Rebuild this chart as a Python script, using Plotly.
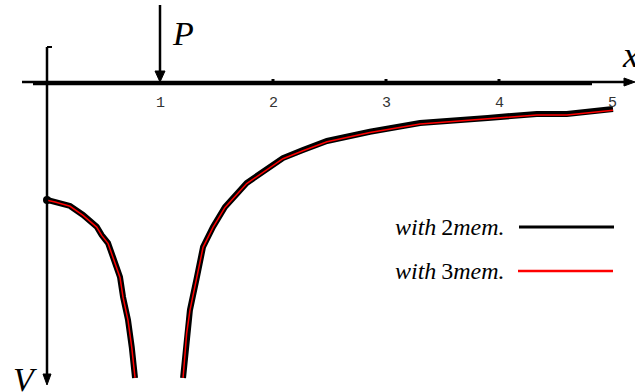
import plotly.graph_objects as go

# ---- data (x along beam, V deflection positive downward) ----
x_left_2 = [0.0, 0.071, 0.204, 0.319, 0.44, 0.484, 0.54, 0.584, 0.646, 0.673, 0.717, 0.75, 0.779]
v_left_2 = [1.044, 1.059, 1.097, 1.177, 1.281, 1.354, 1.425, 1.549, 1.726, 1.903, 2.106, 2.345, 2.619]
x_right_2 = [1.204, 1.236, 1.265, 1.325, 1.381, 1.469, 1.575, 1.767, 1.973, 2.088, 2.265, 2.478, 2.858, 3.301, 3.9, 4.334, 4.6, 5.009]
v_right_2 = [2.619, 2.221, 2.018, 1.735, 1.46, 1.283, 1.106, 0.894, 0.752, 0.673, 0.602, 0.522, 0.44, 0.363, 0.318, 0.283, 0.283, 0.239]

x_left_3 = x_left_2
v_left_3 = [1.046, 1.062, 1.100, 1.180, 1.284, 1.357, 1.428, 1.552, 1.729, 1.906, 2.109, 2.348, 2.619]
x_right_3 = x_right_2
v_right_3 = [2.619, 2.224, 2.021, 1.738, 1.463, 1.287, 1.110, 0.899, 0.757, 0.679, 0.608, 0.529, 0.447, 0.371, 0.326, 0.292, 0.292, 0.250]

tick_vals = [1, 2, 3, 4, 5]
tick_text = ["1", "2", "3", "4", "5"]
legend_names = ["with 2mem.", "with 3mem."]

PX = 113.0  # pixels per unit (same on both axes)

def u(px):
    return px / PX

fig = go.Figure()

# curves: black thick, red thin on top
for xs, vs in [(x_left_2, v_left_2), (x_right_2, v_right_2)]:
    fig.add_trace(go.Scatter(x=xs, y=vs, mode="lines",
                             line=dict(color="black", width=6), showlegend=False,
                             hoverinfo="skip"))
fig.add_trace(go.Scatter(x=[x_left_2[0]], y=[v_left_2[0]], mode="markers",
                         marker=dict(color="black", size=8), showlegend=False, hoverinfo="skip"))
for xs, vs in [(x_left_3, v_left_3), (x_right_3, v_right_3)]:
    fig.add_trace(go.Scatter(x=xs, y=vs, mode="lines",
                             line=dict(color="red", width=1.5), showlegend=False,
                             hoverinfo="skip"))

shapes = []
# horizontal axis
shapes.append(dict(type="line", x0=u(22 - 47), x1=u(626 - 47), y0=0, y1=0,
                   line=dict(color="black", width=2.5)))
shapes.append(dict(type="line", x0=u(33 - 47), x1=u(592 - 47), y0=u(2), y1=u(2),
                   line=dict(color="black", width=2.5)))
shapes.append(dict(type="path",
                   path=f"M {u(635-47)} 0 L {u(624-47)} {u(-4)} L {u(624-47)} {u(4)} Z",
                   fillcolor="black", line=dict(color="black", width=1)))
# small major tick bumps
for t in [2, 3, 4]:
    shapes.append(dict(type="line", x0=t, x1=t, y0=0, y1=u(-3),
                       line=dict(color="black", width=3)))
# vertical axis
shapes.append(dict(type="line", x0=0, x1=0, y0=u(47 - 82), y1=u(376 - 82),
                   line=dict(color="black", width=2.5)))
shapes.append(dict(type="line", x0=0, x1=u(5), y0=u(47 - 82), y1=u(47 - 82),
                   line=dict(color="black", width=2)))
shapes.append(dict(type="path",
                   path=f"M 0 {u(385-82)} L {u(-4)} {u(374-82)} L {u(4)} {u(374-82)} Z",
                   fillcolor="black", line=dict(color="black", width=1)))
# load arrow P at x=1
shapes.append(dict(type="line", x0=1, x1=1, y0=u(5 - 82), y1=u(-10),
                   line=dict(color="black", width=2.5)))
shapes.append(dict(type="path",
                   path=f"M 1 0 L {1 + u(-5)} {u(-11)} L {1 + u(5)} {u(-11)} Z",
                   fillcolor="black", line=dict(color="black", width=1)))
# legend lines
shapes.append(dict(type="line", x0=u(519 - 47), x1=u(614 - 47), y0=u(227 - 82), y1=u(227 - 82),
                   line=dict(color="black", width=3)))
shapes.append(dict(type="line", x0=u(518 - 47), x1=u(613 - 47), y0=u(271 - 82), y1=u(271 - 82),
                   line=dict(color="red", width=2.5)))

annotations = []
for tv, tt in zip(tick_vals, tick_text):
    annotations.append(dict(x=tv, y=u(103 - 82), text=tt, showarrow=False,
                            font=dict(family="Liberation Mono", size=15, color="#333")))
serif = "Liberation Serif, Times New Roman, serif"
annotations.append(dict(x=u(183 - 47), y=u(33 - 82), text="<i>P</i>", showarrow=False,
                        font=dict(family=serif, size=34, color="black")))
annotations.append(dict(x=u(620 - 47), y=u(55 - 82), text="<i>x</i>", showarrow=False,
                        xanchor="left", font=dict(family=serif, size=36, color="black")))
annotations.append(dict(x=u(25 - 47), y=u(379 - 82), text="<i>V</i>", showarrow=False,
                        font=dict(family=serif, size=34, color="black")))
for name, ypx in zip(legend_names, [227, 271]):
    w, rest = name.split(" ")
    html = f"<i>{w}</i>&#8201;{rest[0]}<i>{rest[1:]}</i>"
    annotations.append(dict(x=u(506 - 47), y=u(ypx - 82), text=html, showarrow=False,
                            xanchor="right", font=dict(family=serif, size=24, color="black")))

fig.update_layout(
    width=635, height=392,
    margin=dict(l=0, r=0, t=0, b=0),
    paper_bgcolor="white", plot_bgcolor="white",
    xaxis=dict(range=[u(-47), u(635 - 47)], visible=False, fixedrange=True),
    yaxis=dict(range=[u(392 - 82), u(-82)], visible=False, fixedrange=True),
    shapes=shapes, annotations=annotations, showlegend=False,
)

fig.write_html("out.html", config={"displayModeBar": False},
               post_script="document.body.style.margin='0';document.body.style.padding='0';")
